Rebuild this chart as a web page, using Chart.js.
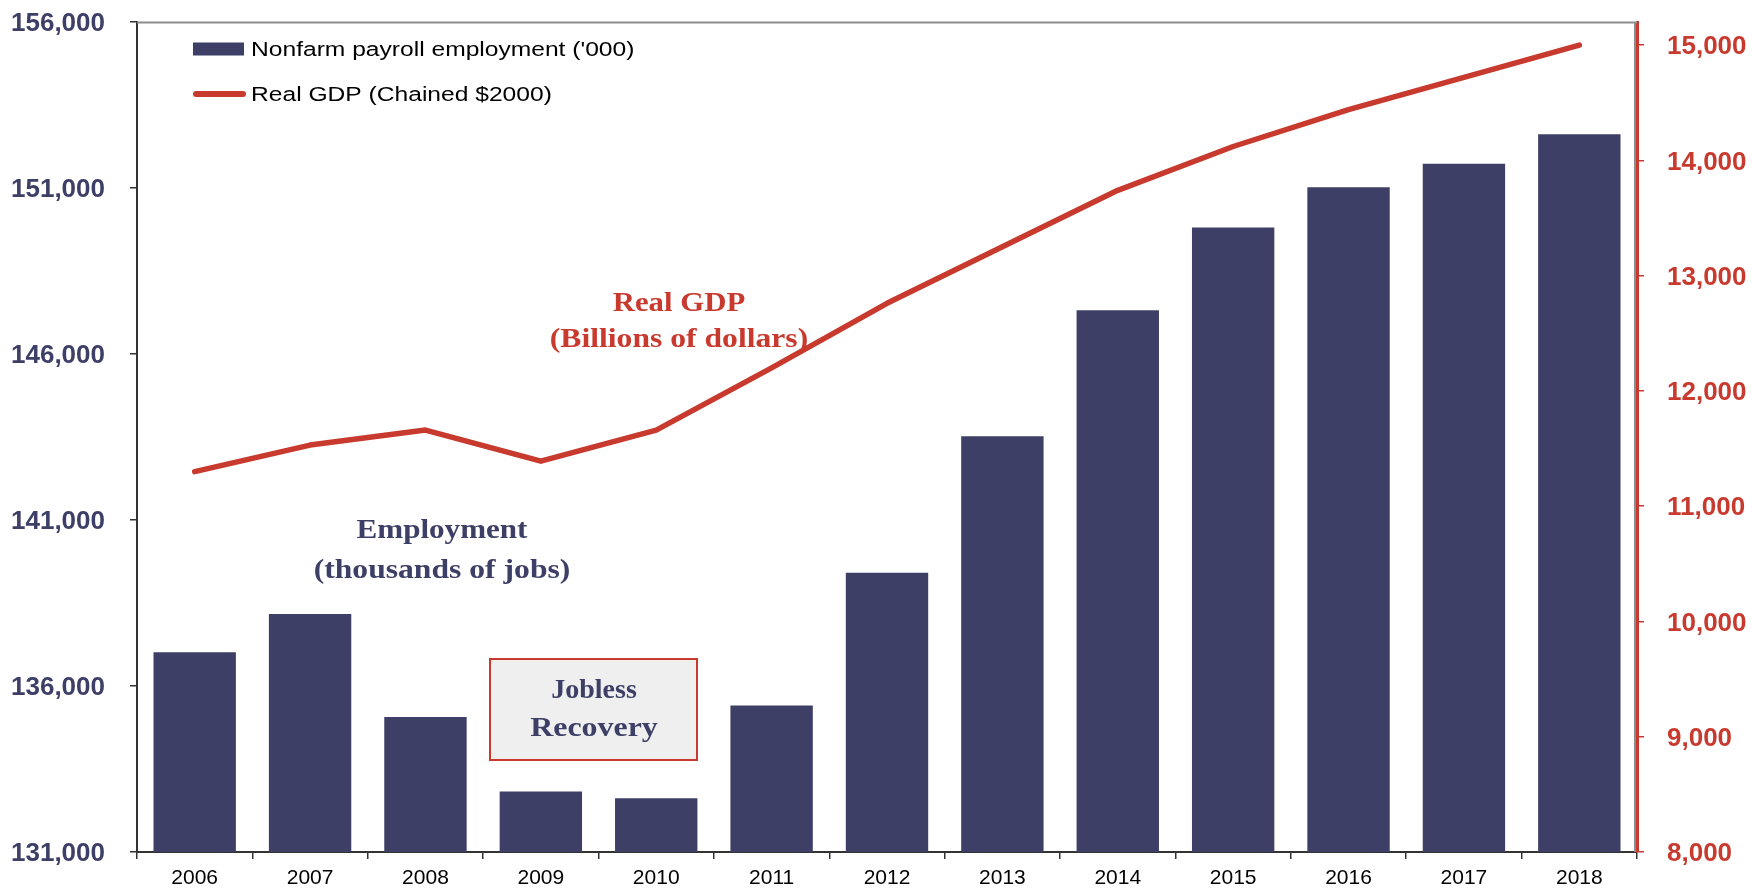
<!DOCTYPE html>
<html>
<head>
<meta charset="utf-8">
<script src="https://cdn.jsdelivr.net/npm/chart.js@4.4.1/dist/chart.umd.min.js"></script>
<style>
  html, body { margin: 0; padding: 0; background: #fff; }
  canvas { display: block; }
</style>
</head>
<body>
<canvas id="chart" width="1752" height="888"></canvas>
<script>
const years = ["2006", "2007", "2008", "2009", "2010", "2011", "2012",
  "2013", "2014", "2015", "2016", "2017", "2018"];
// Nonfarm payroll employment, thousands of jobs
const employment = [137020, 138170, 135070, 132820, 132620, 135410, 139410,
  143520, 147320, 149810, 151020, 151730, 152620];
// Real GDP, billions of chained 2000 dollars
const realGdp = [11300, 11530, 11660, 11390, 11660, 12200, 12760,
  13250, 13740, 14120, 14440, 14720, 15000];
const employmentTicks = [131000, 136000, 141000, 146000, 151000, 156000];
const gdpTicks = [8000, 9000, 10000, 11000, 12000, 13000, 14000, 15000];

const NAVY = "#3d3f66";
const RED = "#c8392e";
const SANS = "'Liberation Sans', Arial, sans-serif";
const SERIF = "'Liberation Serif', 'Times New Roman', serif";

const fmt = (v) => Number(v).toLocaleString("en-US");

// The original uses wide faces; stretch text horizontally to match.
function stretchedText(ctx, text, x, y, sx) {
  ctx.save();
  ctx.translate(x, y);
  ctx.scale(sx, 1);
  ctx.fillText(text, 0, 0);
  ctx.restore();
}

// Legend drawn inside the plot, top-left, as in the original.
const insideLegend = {
  id: "insideLegend",
  afterDraw(chart) {
    const { ctx, chartArea } = chart;
    const x = chartArea.left + 56;
    const rows = [chartArea.top + 27, chartArea.top + 72];
    ctx.save();
    chart.data.datasets.forEach((ds, i) => {
      const y = rows[i];
      if (ds.type === "line") {
        ctx.strokeStyle = ds.borderColor;
        ctx.lineWidth = 6;
        ctx.lineCap = "round";
        ctx.beginPath();
        ctx.moveTo(x + 3, y);
        ctx.lineTo(x + 50, y);
        ctx.stroke();
      } else {
        ctx.fillStyle = ds.backgroundColor;
        ctx.fillRect(x, y - 6.5, 51, 13);
      }
      ctx.fillStyle = "#000";
      ctx.font = `20px ${SANS}`;
      ctx.textBaseline = "middle";
      ctx.textAlign = "left";
      stretchedText(ctx, ds.label, x + 58, y + 1, 1.23);
    });
    ctx.restore();
  },
};

// Text callouts and the plot frame.
const callouts = {
  id: "callouts",
  beforeDatasetsDraw(chart) {
    const { ctx, chartArea } = chart;
    ctx.save();
    ctx.strokeStyle = "#8c8c8c";
    ctx.lineWidth = 2;
    ctx.beginPath();
    ctx.moveTo(chartArea.left, chartArea.top + 0.5);
    ctx.lineTo(chartArea.right, chartArea.top + 0.5);
    ctx.moveTo(chartArea.right - 2, chartArea.top);
    ctx.lineTo(chartArea.right - 2, chartArea.bottom);
    ctx.stroke();

    // "Jobless Recovery" box
    ctx.fillStyle = "#efefef";
    ctx.fillRect(490, 659, 207, 101);
    ctx.strokeStyle = RED;
    ctx.lineWidth = 2;
    ctx.strokeRect(490, 659, 207, 101);
    ctx.restore();
  },
  afterDraw(chart) {
    const { ctx } = chart;
    ctx.save();
    ctx.textAlign = "center";
    ctx.textBaseline = "alphabetic";
    ctx.font = `bold 28px ${SERIF}`;
    ctx.fillStyle = RED;
    stretchedText(ctx, "Real GDP", 679, 311, 1.1);
    stretchedText(ctx, "(Billions of dollars)", 679, 347, 1.13);
    ctx.fillStyle = NAVY;
    stretchedText(ctx, "Employment", 442, 538, 1.11);
    stretchedText(ctx, "(thousands of jobs)", 442, 578, 1.13);
    stretchedText(ctx, "Jobless", 594, 698, 1.0);
    stretchedText(ctx, "Recovery", 594, 736, 1.14);
    ctx.restore();
  },
};

new Chart(document.getElementById("chart"), {
  type: "bar",
  data: {
    labels: years,
    datasets: [
      {
        label: "Nonfarm payroll employment ('000)",
        data: employment,
        backgroundColor: NAVY,
        yAxisID: "y",
        categoryPercentage: 1,
        barPercentage: 0.714,
        order: 1,
      },
      {
        type: "line",
        label: "Real GDP (Chained $2000)",
        data: realGdp,
        borderColor: RED,
        borderWidth: 5.5,
        borderCapStyle: "round",
        borderJoinStyle: "round",
        pointRadius: 0,
        tension: 0,
        yAxisID: "y1",
        order: 0,
      },
    ],
  },
  options: {
    responsive: false,
    animation: false,
    layout: { padding: { top: 22, left: 0, right: 0, bottom: 0 } },
    plugins: { legend: { display: false }, tooltip: { enabled: false } },
    scales: {
      x: {
        offset: true,
        grid: { offset: true, drawOnChartArea: false, tickLength: 7, color: "#333", lineWidth: 1.5 },
        border: { color: "#333", width: 2 },
        ticks: { color: "#000", font: { family: SANS, size: 21 }, padding: 7, maxRotation: 0 },
        afterFit(scale) {
          scale.height = 36;
          scale.paddingLeft = 0;
          scale.paddingRight = 0;
        },
      },
      y: {
        position: "left",
        min: 131000,
        max: 156000,
        afterBuildTicks(scale) {
          scale.ticks = employmentTicks.map((value) => ({ value }));
        },
        grid: { drawOnChartArea: false, tickLength: 7, color: "#333", lineWidth: 1.5 },
        border: { color: "#333", width: 2 },
        ticks: {
          color: NAVY,
          font: { family: SANS, size: 26, weight: "bold" },
          padding: 25,
          labelOffset: 2,
          callback: fmt,
        },
        afterFit(scale) {
          scale.width = 137;
          scale.paddingTop = 0;
          scale.paddingBottom = 0;
        },
      },
      y1: {
        position: "right",
        min: 8000,
        max: 15200,
        afterBuildTicks(scale) {
          scale.ticks = gdpTicks.map((value) => ({ value }));
        },
        grid: { drawOnChartArea: false, tickLength: 7, color: RED, lineWidth: 1.5 },
        border: { color: RED, width: 3 },
        ticks: {
          color: RED,
          font: { family: SANS, size: 26, weight: "bold" },
          padding: 23,
          labelOffset: 2,
          callback: fmt,
        },
        afterFit(scale) {
          scale.width = 115;
          scale.paddingTop = 0;
          scale.paddingBottom = 0;
        },
      },
    },
  },
  plugins: [insideLegend, callouts],
});
</script>
</body>
</html>
